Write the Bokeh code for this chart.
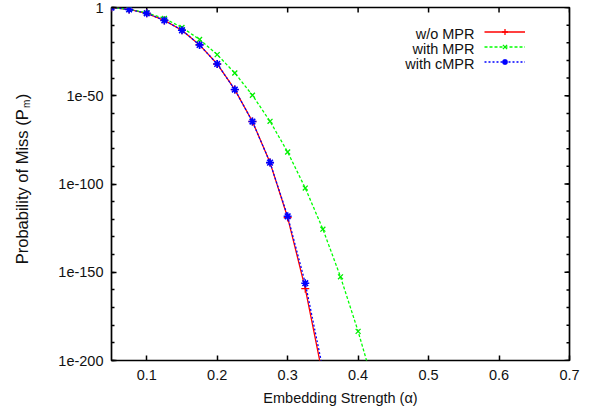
import math
from bokeh.plotting import figure
from bokeh.layouts import row
from bokeh.core.properties import value
from bokeh.models import (FixedTicker, CustomJSTickFormatter, Legend, LegendItem, Label, Range1d)
from bokeh.embed import file_html
from bokeh.resources import INLINE

# ---- data ----
alpha = [0.05, 0.075, 0.1, 0.125, 0.15, 0.175, 0.2, 0.225, 0.25, 0.275, 0.3, 0.325, 0.35]
pm_wo_mpr = [1.0, 7.9e-2, 5.0e-4, 5.0e-8, 1.3e-13, 6.3e-22, 1.0e-32, 3.2e-47, 2.5e-65,
             1.3e-88, 1.0e-119, 5.0e-160, 1.0e-209]
pm_cmpr = [1.0, 7.9e-2, 5.0e-4, 5.0e-8, 1.3e-13, 6.3e-22, 1.0e-32, 3.2e-47, 2.5e-65,
           1.3e-88, 5.0e-119, 6.3e-157, 1.0e-205]
alpha_mpr = [0.05, 0.075, 0.1, 0.125, 0.15, 0.175, 0.2, 0.225, 0.25, 0.275, 0.3, 0.325,
             0.35, 0.375, 0.4, 0.425]
pm_mpr = [1.0, 1.0e-1, 1.0e-3, 6.3e-7, 5.0e-12, 7.9e-19, 2.0e-27, 7.9e-38, 2.0e-50,
          3.2e-65, 1.3e-82, 5.0e-103, 2.5e-126, 2.5e-153, 3.2e-184, 1.0e-218]

series_names = ["w/o MPR", "with MPR", "with cMPR"]
x_ticks = [0.1, 0.2, 0.3, 0.4, 0.5, 0.6, 0.7]
y_ticks = [1e-200, 1e-150, 1e-100, 1e-50, 1.0]
y_minor = [10.0 ** (-k) for k in range(0, 201, 10)]
x_lo, x_hi = 0.05, 0.7
y_lo, y_hi = 1e-200, 1.0

FONT = "Liberation Sans"
FS = "14.5px"
TXT = "#111111"

p = figure(width=561, height=416, output_backend="svg", toolbar_location=None,
           y_axis_type="log", x_range=Range1d(x_lo, x_hi), y_range=Range1d(y_lo, y_hi),
           min_border_left=71, min_border_right=32, min_border_top=7, min_border_bottom=56)
p.grid.visible = False
p.background_fill_color = "white"
p.border_fill_color = "white"
p.outline_line_color = "black"
p.outline_line_width = 1.7

xticker = FixedTicker(ticks=x_ticks, minor_ticks=[])
yticker = FixedTicker(ticks=y_ticks, minor_ticks=y_minor)
xfmt = CustomJSTickFormatter(code="return tick.toFixed(1);")
yfmt = CustomJSTickFormatter(code="""
const e = Math.round(Math.log10(tick));
return e == 0 ? "1" : "1e" + e;
""")

for ax in (p.xaxis[0], p.yaxis[0]):
    ax.axis_line_color = None
    ax.major_tick_in = 5
    ax.major_tick_out = 0
    ax.minor_tick_in = 3
    ax.minor_tick_out = 0
    ax.major_tick_line_color = "black"
    ax.minor_tick_line_color = "black"
    ax.major_tick_line_width = 1.5
    ax.minor_tick_line_width = 1.5
    ax.major_label_text_font = FONT
    ax.major_label_text_color = TXT
    ax.major_label_text_font_size = FS
    ax.axis_label_text_font = FONT
    ax.axis_label_text_font_style = "normal"
    ax.axis_label_text_color = TXT
    ax.axis_label_text_font_size = FS

xa = p.xaxis[0]
xa.ticker = xticker
xa.formatter = xfmt
xa.axis_label = "Embedding Strength (α)"
xa.major_label_standoff = 9
xa.axis_label_standoff = 7

ya = p.yaxis[0]
ya.ticker = yticker
ya.formatter = yfmt
ya.axis_label = None
ya.major_label_standoff = 8

# mirrored inward ticks on the top and right border (half of each dash is clipped by the frame)
p.scatter([x_hi] * len(y_ticks), y_ticks, marker="dash", size=10, line_color="black", line_width=1.5)
p.scatter([x_hi] * len(y_minor), y_minor, marker="dash", size=6, line_color="black", line_width=1.5)
p.scatter(x_ticks, [y_hi] * len(x_ticks), marker="dash", angle=math.pi / 2, size=10,
          line_color="black", line_width=1.5)

# ---- series ----
l1 = p.line(alpha, pm_wo_mpr, line_color="#ff0000", line_width=1.3)
s1 = p.scatter(alpha, pm_wo_mpr, marker="cross", size=8, line_color="#ff0000", line_width=1.3)
l2 = p.line(alpha_mpr, pm_mpr, line_color="#00ff00", line_width=1.3, line_dash="3 2")
s2 = p.scatter(alpha_mpr, pm_mpr, marker="x", size=7, line_color="#00ee00", line_width=1.3)
l3 = p.line(alpha, pm_cmpr, line_color="#0000ff", line_width=1.3, line_dash="2 2")
s3 = p.scatter(alpha, pm_cmpr, marker="asterisk", size=8, line_color="#0000ff", line_width=1.6)

# ---- gnuplot-like key: text right-aligned, sample on the right ----
legend = Legend(items=[LegendItem(label=" ", renderers=[l1, s1]),
                       LegendItem(label=" ", renderers=[l2, s2]),
                       LegendItem(label=" ", renderers=[l3, s3])],
                location=(373, 291), glyph_width=41, glyph_height=15, label_height=15,
                label_width=0, label_standoff=0, spacing=0, padding=0, margin=0,
                border_line_color=None, background_fill_alpha=0,
                label_text_font_size="1px")
p.add_layout(legend)

for i, name in enumerate(series_names):
    p.add_layout(Label(x=363, y=327 - 15 * i, x_units="screen", y_units="screen",
                       text=name, text_align="right", text_baseline="middle",
                       text_font=FONT, text_font_size=FS, text_color=TXT))

# ---- y-axis title (with subscript m) in a narrow strip to the left ----
q = figure(width=40, height=416, output_backend="svg", toolbar_location=None,
           x_range=Range1d(0, 40), y_range=Range1d(0, 416),
           x_axis_location=None, y_axis_location=None, min_border=0)
q.grid.visible = False
q.outline_line_color = None
q.border_fill_color = "white"
q.text(x=[21.5], y=[296], text=["Probability of Miss (P"], angle=math.pi / 2,
       text_align="right", text_baseline="middle", text_font=value(FONT),
       text_font_size="16.5px", text_color=TXT)
q.text(x=[25.5], y=[297.5], text=["m"], angle=math.pi / 2,
       text_align="left", text_baseline="middle", text_font=value(FONT),
       text_font_size="10px", text_color=TXT)
q.text(x=[21.5], y=[308], text=[")"], angle=math.pi / 2,
       text_align="left", text_baseline="middle", text_font=value(FONT),
       text_font_size="16.5px", text_color=TXT)

layout = row(q, p, spacing=0)
open("out.html", "w").write(file_html(layout, INLINE))
